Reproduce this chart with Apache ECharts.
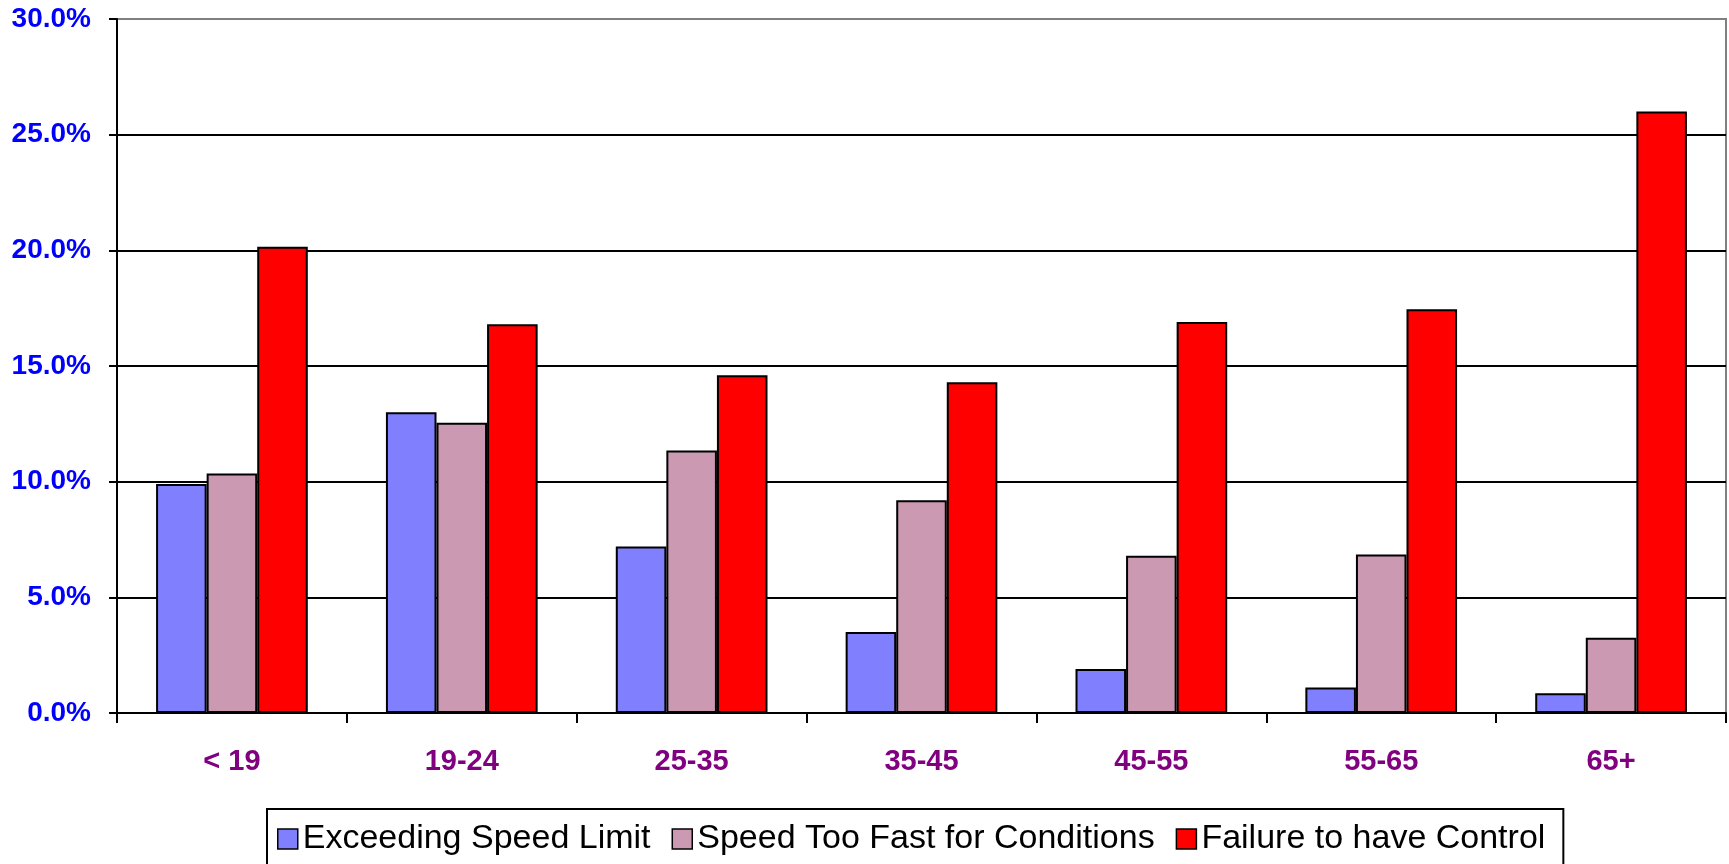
<!DOCTYPE html>
<html>
<head>
<meta charset="utf-8">
<title>Speed related crashes by age</title>
<script src="https://cdn.jsdelivr.net/npm/echarts@6/dist/echarts.min.js"></script>
<style>
  html, body { margin: 0; padding: 0; background: #fff; }
  #chart { width: 1729px; height: 864px; }
</style>
</head>
<body>
<div id="chart"></div>
<script>
// age groups
var categories = ['< 19', '19-24', '25-35', '35-45', '45-55', '55-65', '65+']
// percent values
var exceedingLimit = [9.9, 13.0, 7.2, 3.5, 1.9, 1.1, 0.85]
var tooFast = [10.35, 12.55, 11.35, 9.2, 6.8, 6.85, 3.25]
var noControl = [20.15, 16.8, 14.6, 14.3, 16.9, 17.45, 26.0]
var seriesNames = ['Exceeding Speed Limit', 'Speed Too Fast for Conditions', 'Failure to have Control']
var seriesColors = ['#8080FF', '#CC99B3', '#FF0000']

var font = "'Liberation Sans', Arial, sans-serif"

var chart = echarts.init(document.getElementById('chart'), null, { renderer: 'canvas' })

function barSeries(name, data, color) {
  return {
    name: name,
    type: 'bar',
    data: data,
    barGap: '0%',
    barCategoryGap: '34%',
    itemStyle: {
      color: color,
      borderColor: '#000',
      borderWidth: 2
    },
    emphasis: { disabled: true }
  }
}

chart.setOption({
  backgroundColor: '#fff',
  animation: false,
  grid: {
    left: 117,
    right: 3,
    top: 19,
    bottom: 151,
    show: true,
    borderColor: '#808080',
    borderWidth: 2
  },
  legend: {
    left: 267,
    top: 809,
    padding: [13, 18, 40, 10],
    borderColor: '#000',
    borderWidth: 2,
    icon: 'rect',
    itemWidth: 20,
    itemHeight: 20,
    itemGap: 21,
    itemStyle: { borderWidth: 1.5 },
    textStyle: {
      fontFamily: font,
      fontSize: 34,
      color: '#000'
    },
    data: seriesNames
  },
  xAxis: {
    type: 'category',
    data: categories,
    axisLine: { lineStyle: { color: '#000', width: 2 } },
    axisTick: { show: true, length: 10, lineStyle: { color: '#000', width: 2 } },
    axisLabel: {
      margin: 34,
      color: '#800080',
      fontFamily: font,
      fontWeight: 'bold',
      fontSize: 29
    }
  },
  yAxis: {
    type: 'value',
    min: 0,
    max: 30,
    interval: 5,
    axisLine: { show: true, lineStyle: { color: '#000', width: 2 } },
    axisTick: { show: true, length: 8, lineStyle: { color: '#000', width: 2 } },
    splitLine: {
      show: true,
      showMinLine: false,
      lineStyle: {
        // top line is grey like the plot border
        color: ['#000', '#000', '#000', '#000', '#000', '#808080'],
        width: 2
      }
    },
    axisLabel: {
      margin: 26,
      color: '#0000FF',
      fontFamily: font,
      fontWeight: 'bold',
      fontSize: 28,
      formatter: function (v) {
        return v.toFixed(1) + '%'
      }
    }
  },
  series: [
    barSeries(seriesNames[0], exceedingLimit, seriesColors[0]),
    barSeries(seriesNames[1], tooFast, seriesColors[1]),
    barSeries(seriesNames[2], noControl, seriesColors[2])
  ]
})
</script>
</body>
</html>
